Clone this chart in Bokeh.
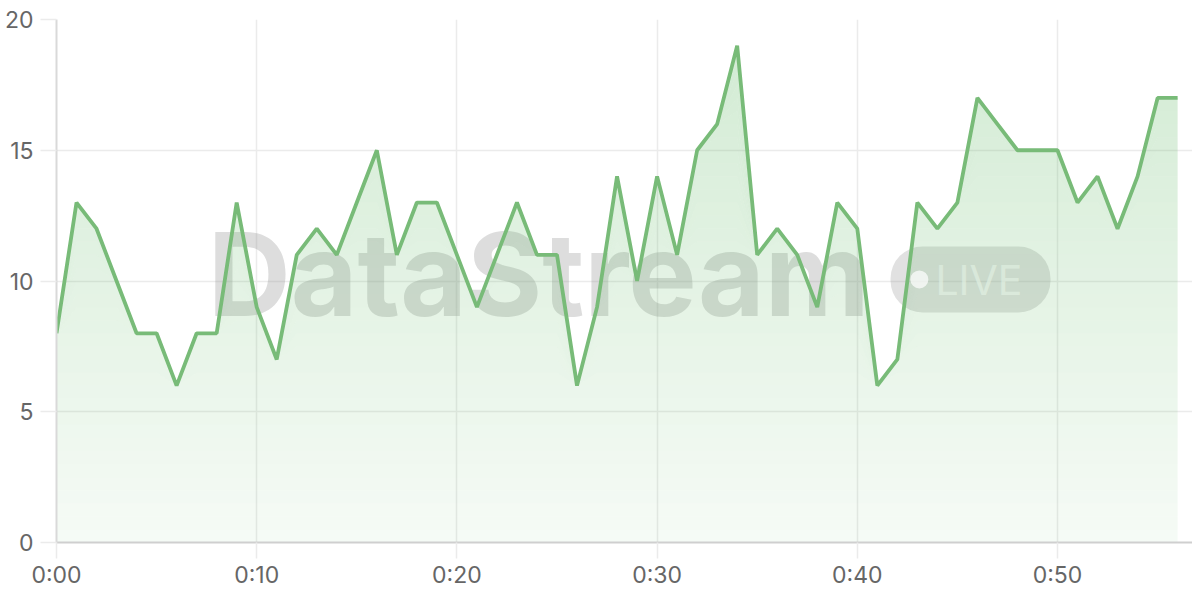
import numpy as np
from bokeh.plotting import figure
from bokeh.models import Range1d, FixedTicker, Label, BoxAnnotation
from bokeh.embed import file_html
from bokeh.resources import INLINE

# ---- data ----
minutes = list(range(0, 57))
values = [8, 13, 12, 10, 8, 8, 6, 8, 8, 13,
          9, 7, 11, 12, 11, 13, 15, 11, 13, 13,
          11, 9, 11, 13, 11, 11, 6, 9, 14, 10,
          14, 11, 15, 16, 19, 11, 12, 11, 9, 13,
          12, 6, 7, 13, 12, 13, 17, 16, 15, 15,
          15, 13, 14, 12, 14, 17, 17]
x_ticks = [0, 10, 20, 30, 40, 50]
x_tick_labels = ["0:00", "0:10", "0:20", "0:30", "0:40", "0:50"]
y_ticks = [0, 5, 10, 15, 20]

LINE = "#78bb78"
FILL = "#66bb6a"
GRID = "#ebebeb"
FONT = "Inter"

W, H = 1192, 592
BL, BT, BB = 56, 19, 50
px_per_min = 20.02
x_end = (W - BL) / px_per_min

p = figure(width=W, height=H, output_backend="svg", toolbar_location=None,
           x_range=Range1d(0, x_end), y_range=Range1d(0, 20),
           min_border_left=BL, min_border_right=0, min_border_top=BT,
           min_border_bottom=BB)
p.outline_line_color = None
p.background_fill_color = "white"
p.border_fill_color = "white"

# axes
for ax in (p.xaxis[0], p.yaxis[0]):
    ax.major_tick_in = 0
    ax.major_tick_out = 16
    ax.major_tick_line_color = GRID
    ax.major_tick_line_width = 1.5
    ax.minor_tick_line_color = None
    ax.major_label_text_font = FONT
    ax.major_label_text_font_size = "23px"
    ax.major_label_text_color = "#666666"
p.xaxis.ticker = FixedTicker(ticks=x_ticks)
p.xaxis.major_label_overrides = {t: l for t, l in zip(x_ticks, x_tick_labels)}
p.xaxis.axis_line_color = "#cfcfcf"
p.xaxis.axis_line_width = 2
p.xaxis.major_label_standoff = 2
p.yaxis.ticker = FixedTicker(ticks=y_ticks)
p.yaxis.axis_line_color = "#d9d9d9"
p.yaxis.axis_line_width = 2
p.yaxis.major_label_standoff = 7

p.grid.grid_line_color = GRID
p.grid.grid_line_width = 1.5

# watermark
wm = Label(x=7.55, y=10.25, text="DataStream", text_font=FONT, text_font_style="bold",
           text_font_size="115px", text_color="#999999", text_alpha=0.33,
           text_align="left", text_baseline="alphabetic", level="underlay")
p.add_layout(wm)
pill = BoxAnnotation(left=41.66, right=49.65, bottom=8.8, top=11.32,
                     fill_color="#808080", fill_alpha=0.24, line_color=None,
                     border_radius=32, level="underlay")
p.add_layout(pill)
live = Label(x=43.9, y=10.02, text="LIVE", text_font=FONT, text_font_size="41px",
             text_color="white", text_alpha=0.65, text_align="left",
             text_baseline="alphabetic", level="underlay")
p.add_layout(live)

# gradient area: non-overlapping horizontal bands, alpha rising with height
x = np.array(minutes, dtype=float)
v = np.array(values, dtype=float)
edges = np.arange(0, 20.5, 0.5)
for lo, hi in zip(edges[:-1], edges[1:]):
    mid = 0.5 * (lo + hi)
    a = 0.06 + (0.30 - 0.06) * mid / 20.0
    p.varea(x=x, y1=np.minimum(v, lo), y2=np.minimum(v, hi),
            fill_color=FILL, fill_alpha=a)

# watermark dot (decoration)
p.scatter(x=[43.1], y=[10.06], size=18, fill_color="white", fill_alpha=0.7,
          line_color=None)

p.line(x, v, line_color=LINE, line_width=3.8)

open("out.html", "w").write(file_html(p, INLINE))
